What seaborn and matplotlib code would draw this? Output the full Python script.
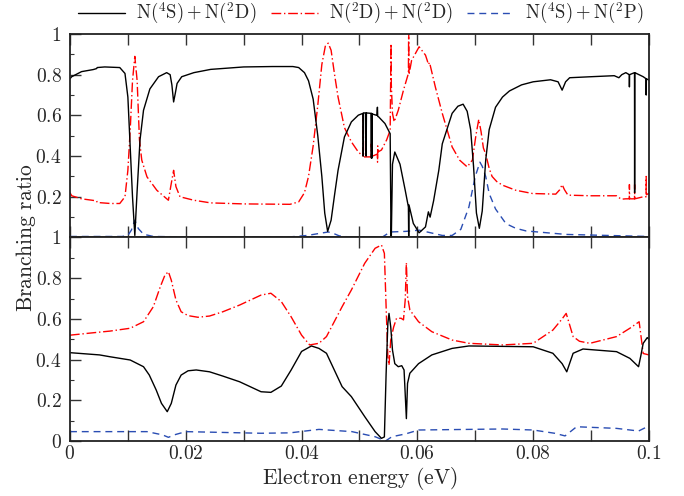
import numpy as np
import pandas as pd
import matplotlib
matplotlib.use("Agg")
import matplotlib.pyplot as plt
from matplotlib.ticker import MultipleLocator, FuncFormatter
from matplotlib.lines import Line2D
import seaborn as sns

# ---------------- data ----------------
labels = [r"$\mathrm{N}(^4\mathrm{S})+\mathrm{N}(^2\mathrm{D})$",
          r"$\mathrm{N}(^2\mathrm{D})+\mathrm{N}(^2\mathrm{D})$",
          r"$\mathrm{N}(^4\mathrm{S})+\mathrm{N}(^2\mathrm{P})$"]

# top panel
top_black_x = [0.0000, 0.0003, 0.0020, 0.0040, 0.0046, 0.0047, 0.0060, 0.0086, 0.0095, 0.0100,
               0.0104, 0.0108, 0.0112, 0.0116, 0.0121, 0.0127, 0.0138, 0.0153, 0.0167, 0.0173,
               0.0176, 0.0179, 0.0182, 0.0185, 0.0193, 0.0214, 0.0243, 0.0300, 0.0350, 0.0385,
               0.0395, 0.0405, 0.0412, 0.0420, 0.0428, 0.0435, 0.0440, 0.0445, 0.0451, 0.0457,
               0.0463, 0.0474, 0.0486, 0.0498, 0.0506, 0.05065, 0.0507, 0.0511, 0.05115, 0.0512,
               0.0520, 0.05205, 0.0521, 0.05215, 0.0522, 0.0530, 0.0531, 0.05315, 0.0533, 0.0544,
               0.0553, 0.05545, 0.0555, 0.0557, 0.0561, 0.0570, 0.0579, 0.05845, 0.0585, 0.05855,
               0.0593, 0.0603, 0.0614, 0.0619, 0.0622, 0.0628, 0.0637, 0.0643, 0.0660, 0.0670,
               0.0679, 0.0686, 0.0692, 0.0697, 0.0702, 0.0707, 0.0712, 0.0718, 0.0724, 0.0735,
               0.0747, 0.0759, 0.0780, 0.0800, 0.0830, 0.0843, 0.0850, 0.0856, 0.0863, 0.0900,
               0.0940, 0.0948, 0.0953, 0.0960, 0.0966, 0.09662, 0.09665, 0.0975, 0.09752, 0.09755,
               0.0990, 0.0995, 0.09952, 0.09955, 0.1000]
top_black_y = [0.78, 0.79, 0.815, 0.825, 0.83, 0.835, 0.838, 0.835, 0.806, 0.69,
               0.445, 0.20, 0.01, 0.23, 0.48, 0.625, 0.73, 0.79, 0.81, 0.80,
               0.75, 0.666, 0.71, 0.757, 0.79, 0.81, 0.826, 0.838, 0.84, 0.84,
               0.835, 0.81, 0.77, 0.68, 0.50, 0.30, 0.12, 0.03, 0.085, 0.21,
               0.33, 0.494, 0.568, 0.601, 0.61, 0.40, 0.612, 0.612, 0.40, 0.612,
               0.61, 0.39, 0.61, 0.39, 0.607, 0.60, 0.64, 0.595, 0.593, 0.56,
               0.51, 0.0, 0.0, 0.36, 0.42, 0.36, 0.232, 0.15, 0.0, 0.16,
               0.069, 0.023, 0.052, 0.126, 0.10, 0.18, 0.33, 0.46, 0.61, 0.645,
               0.655, 0.62, 0.53, 0.35, 0.12, 0.045, 0.13, 0.38, 0.53, 0.64,
               0.69, 0.72, 0.75, 0.765, 0.775, 0.765, 0.724, 0.765, 0.785, 0.79,
               0.795, 0.785, 0.80, 0.81, 0.80, 0.74, 0.80, 0.81, 0.22, 0.81,
               0.79, 0.78, 0.70, 0.78, 0.773]

top_red_x = [0.0000, 0.0003, 0.0020, 0.0046, 0.0047, 0.0070, 0.0086, 0.0095, 0.0100, 0.0104,
             0.0108, 0.0112, 0.0116, 0.0120, 0.0124, 0.0133, 0.0150, 0.0170, 0.0174, 0.0179,
             0.0183, 0.0190, 0.0214, 0.0243, 0.0300, 0.0380, 0.0395, 0.0405, 0.0412, 0.0420,
             0.0428, 0.0435, 0.0441, 0.0446, 0.0451, 0.0457, 0.0463, 0.0474, 0.0486, 0.0498,
             0.0506, 0.05065, 0.0507, 0.0520, 0.05205, 0.0521, 0.0531, 0.05312, 0.05315, 0.05318,
             0.0538, 0.0547, 0.0553, 0.05545, 0.0555, 0.0557, 0.0560, 0.0567, 0.0576, 0.05845,
             0.0585, 0.05855, 0.0590, 0.0603, 0.0614, 0.0617, 0.0619, 0.0621, 0.0631, 0.0643,
             0.0660, 0.0673, 0.0686, 0.0695, 0.0701, 0.0706, 0.0710, 0.0714, 0.0718, 0.0724,
             0.0729, 0.0737, 0.0747, 0.0770, 0.0799, 0.0839, 0.0846, 0.0850, 0.0854, 0.0860,
             0.0900, 0.0944, 0.0952, 0.0960, 0.0966, 0.09662, 0.09665, 0.0975, 0.09752, 0.09755,
             0.0990, 0.0995, 0.09952, 0.09955, 0.1000]
top_red_y = [0.22, 0.205, 0.19, 0.18, 0.172, 0.167, 0.167, 0.20, 0.33, 0.527,
             0.77, 0.89, 0.77, 0.48, 0.38, 0.298, 0.232, 0.183, 0.25, 0.33,
             0.25, 0.20, 0.183, 0.17, 0.165, 0.163, 0.175, 0.22, 0.30, 0.45,
             0.65, 0.85, 0.94, 0.955, 0.92, 0.80, 0.69, 0.54, 0.47, 0.42,
             0.40, 0.60, 0.396, 0.396, 0.46, 0.398, 0.41, 0.37, 0.45, 0.42,
             0.43, 0.48, 0.527, 0.953, 0.75, 0.61, 0.568, 0.625, 0.724, 0.806,
             1.05, 0.80, 0.87, 0.937, 0.896, 0.87, 0.85, 0.86, 0.74, 0.61,
             0.445, 0.38, 0.347, 0.38, 0.50, 0.58, 0.52, 0.44, 0.41, 0.34,
             0.30, 0.275, 0.257, 0.232, 0.216, 0.213, 0.235, 0.26, 0.235, 0.208,
             0.205, 0.205, 0.188, 0.19, 0.19, 0.26, 0.19, 0.19, 0.26, 0.19,
             0.20, 0.20, 0.30, 0.21, 0.217]

top_blue_x = [0.0000, 0.0090, 0.0100, 0.0106, 0.0112, 0.0118, 0.0127, 0.0144, 0.0200, 0.0380,
              0.0410, 0.0435, 0.0446, 0.0455, 0.0465, 0.0480, 0.0540, 0.0553, 0.0580, 0.0603,
              0.0620, 0.0643, 0.0660, 0.0675, 0.0689, 0.0700, 0.0708, 0.0712, 0.0718, 0.0724,
              0.0735, 0.0753, 0.0770, 0.0788, 0.0857, 0.1000]
top_blue_y = [0.005, 0.005, 0.01, 0.036, 0.085, 0.044, 0.016, 0.005, 0.003, 0.003,
              0.010, 0.022, 0.027, 0.02, 0.008, 0.003, 0.003, 0.027, 0.030, 0.036,
              0.025, 0.010, 0.01, 0.04, 0.15, 0.30, 0.37, 0.35, 0.30, 0.216,
              0.14, 0.068, 0.045, 0.032, 0.015, 0.005]

# bottom panel
bot_black_x = [0.0000, 0.0051, 0.0069, 0.0104, 0.0127, 0.0137, 0.0149, 0.0158, 0.0168, 0.0175,
               0.0183, 0.0192, 0.0204, 0.0218, 0.0241, 0.0264, 0.0293, 0.0330, 0.0347, 0.0365,
               0.0382, 0.0400, 0.0417, 0.0430, 0.0443, 0.0470, 0.0486, 0.0509, 0.0527, 0.0538,
               0.0543, 0.0546, 0.0549, 0.0551, 0.0554, 0.0557, 0.0561, 0.0567, 0.0573, 0.0577,
               0.0581, 0.0583, 0.0587, 0.0602, 0.0625, 0.0660, 0.0689, 0.0800, 0.0834, 0.0850,
               0.0858, 0.0864, 0.0869, 0.0886, 0.0944, 0.0967, 0.0982, 0.0986, 0.0990, 0.0997,
               0.1000]
bot_black_y = [0.434, 0.423, 0.414, 0.398, 0.365, 0.324, 0.25, 0.185, 0.144, 0.185,
               0.275, 0.324, 0.345, 0.349, 0.34, 0.319, 0.291, 0.242, 0.239, 0.27,
               0.349, 0.44, 0.467, 0.455, 0.431, 0.267, 0.218, 0.12, 0.046, 0.013,
               0.02, 0.33, 0.578, 0.627, 0.56, 0.447, 0.38, 0.365, 0.37, 0.349,
               0.11, 0.283, 0.333, 0.38, 0.423, 0.455, 0.467, 0.463, 0.431, 0.38,
               0.34, 0.39, 0.431, 0.452, 0.439, 0.406, 0.365, 0.42, 0.48, 0.508,
               0.50]

bot_red_x = [0.0000, 0.0051, 0.0069, 0.0104, 0.0127, 0.0144, 0.0156, 0.0164, 0.0170, 0.0175,
             0.0183, 0.0192, 0.0204, 0.0221, 0.0241, 0.0264, 0.0293, 0.0330, 0.0347, 0.0365,
             0.0382, 0.0400, 0.0414, 0.0430, 0.0443, 0.0470, 0.0486, 0.0509, 0.0527, 0.0538,
             0.0543, 0.0546, 0.0549, 0.0551, 0.0554, 0.0559, 0.0564, 0.0572, 0.0576, 0.0579,
             0.0581, 0.0583, 0.0587, 0.0602, 0.0625, 0.0660, 0.0689, 0.0747, 0.0800, 0.0834,
             0.0850, 0.0857, 0.0862, 0.0869, 0.0880, 0.0898, 0.0944, 0.0967, 0.0980, 0.0983,
             0.0986, 0.0990, 0.1000]
bot_red_y = [0.52, 0.535, 0.54, 0.554, 0.586, 0.66, 0.758, 0.815, 0.832, 0.79,
             0.693, 0.635, 0.616, 0.608, 0.614, 0.635, 0.668, 0.717, 0.726, 0.685,
             0.61, 0.52, 0.472, 0.48, 0.513, 0.66, 0.742, 0.873, 0.947, 0.963,
             0.922, 0.66, 0.414, 0.373, 0.496, 0.56, 0.603, 0.603, 0.595, 0.693,
             0.876, 0.71, 0.644, 0.586, 0.537, 0.496, 0.48, 0.472, 0.48, 0.545,
             0.60, 0.627, 0.58, 0.513, 0.49, 0.48, 0.513, 0.554, 0.58, 0.586,
             0.52, 0.43, 0.423]

bot_blue_x = [0.0000, 0.0133, 0.0160, 0.0170, 0.0180, 0.0200, 0.0330, 0.0380, 0.0430, 0.0487,
              0.0527, 0.0545, 0.0556, 0.0580, 0.0602, 0.0747, 0.0800, 0.0837, 0.0855, 0.0875,
              0.0944, 0.0982, 0.0997, 0.1000]
bot_blue_y = [0.046, 0.046, 0.03, 0.018, 0.03, 0.046, 0.038, 0.04, 0.057, 0.046,
              0.021, 0.0, 0.021, 0.035, 0.054, 0.059, 0.054, 0.038, 0.025, 0.07,
              0.062, 0.049, 0.07, 0.067]

x_tick_labels = ["0", "0.02", "0.04", "0.06", "0.08", "0.1"]

# ---------------- style ----------------
sns.set_style("ticks")
plt.rcParams["mathtext.fontset"] = "cm"
plt.rcParams["font.family"] = ["DejaVu Serif"]
plt.rcParams["axes.linewidth"] = 1.3
plt.rcParams["axes.edgecolor"] = "#222222"

colors = ["#000000", "#ff0000", "#2a4db3"]
styles = ["-", (0, (7, 2, 1, 2)), (0, (5, 3.5))]

fig, (ax1, ax2) = plt.subplots(2, 1, sharex=True, figsize=(6.84, 4.96), dpi=100)
fig.subplots_adjust(left=0.1023, right=0.9488, top=0.9315, bottom=0.1109, hspace=0)

top = [(top_black_x, top_black_y), (top_red_x, top_red_y), (top_blue_x, top_blue_y)]
bot = [(bot_black_x, bot_black_y), (bot_red_x, bot_red_y), (bot_blue_x, bot_blue_y)]

order = [2, 1, 0]
for ax, sets in ((ax1, top), (ax2, bot)):
    for i in order:
        xs, ys = sets[i]
        df = pd.DataFrame({"x": xs, "y": ys})
        sns.lineplot(data=df, x="x", y="y", ax=ax, estimator=None, sort=False,
                     color=colors[i], linestyle=styles[i], linewidth=1.0)
    ax.set_xlim(0, 0.1)
    ax.set_ylim(0, 1)
    ax.set_xlabel("")
    ax.set_ylabel("")
    ax.xaxis.set_major_locator(MultipleLocator(0.01))
    ax.yaxis.set_major_locator(MultipleLocator(0.2))
    ax.yaxis.set_minor_locator(MultipleLocator(0.1))
    ax.tick_params(axis="both", which="major", direction="in", length=8, width=1.0,
                   top=True, bottom=True, left=True, right=False, labelsize=14,
                   color="#333333")
    ax.tick_params(axis="x", which="major", pad=3)
    ax.tick_params(axis="y", which="major", pad=6)
    ax.tick_params(axis="y", which="minor", direction="in", length=3, width=0.8,
                   left=True, right=False, color="#333333")
    for s in ax.spines.values():
        s.set_visible(True)


def yfmt(v, pos):
    if abs(v) < 1e-9:
        return "$0$"
    if abs(v - 1) < 1e-9:
        return "$1$"
    return "$%.1f$" % v


def yfmt_top(v, pos):
    if abs(v) < 1e-9:
        return ""
    return yfmt(v, pos)


def xfmt(v, pos):
    k = int(round(v / 0.01))
    if k % 2 == 0 and 0 <= k // 2 < len(x_tick_labels):
        return "$" + x_tick_labels[k // 2] + "$"
    return ""


ax1.yaxis.set_major_formatter(FuncFormatter(yfmt_top))
ax2.yaxis.set_major_formatter(FuncFormatter(yfmt))
ax2.xaxis.set_major_formatter(FuncFormatter(xfmt))
ax1.tick_params(labelbottom=False)

ax2.set_xlabel(r"$\mathrm{Electron\ energy\ (eV)}$", fontsize=15.5, labelpad=1)
fig.text(0.038, 0.5216, r"$\mathrm{Branching\ ratio}$", rotation=90, fontsize=15.5,
         ha="center", va="center")

handles = [Line2D([0], [0], color=colors[i], linestyle=styles[i], linewidth=1.0) for i in range(3)]
fig.legend(handles, labels, loc="center", bbox_to_anchor=(0.528, 0.972), ncol=3,
           frameon=False, fontsize=13.5, handlelength=2.5, handletextpad=0.6,
           columnspacing=0.75, borderaxespad=0)

fig.savefig("out.png", dpi=100)
